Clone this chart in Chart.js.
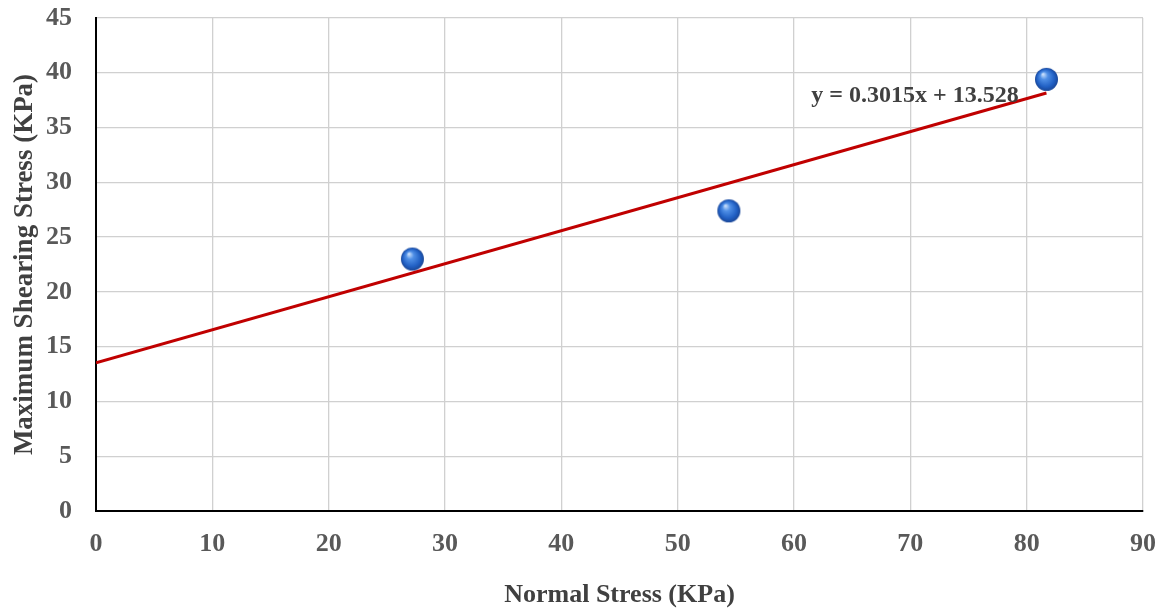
<!DOCTYPE html>
<html>
<head>
<meta charset="utf-8">
<script src="https://cdn.jsdelivr.net/npm/chart.js@4.4.0/dist/chart.umd.min.js"></script>
<style>
  html, body { margin: 0; padding: 0; background: #fff; }
  #wrap { width: 1166px; height: 611px; }
</style>
</head>
<body>
<div id="wrap"><canvas id="shear_chart" width="1166" height="611"></canvas></div>
<script>
// measured points
var normalStress = [27.2, 54.4, 81.7];
var shearStress = [23.0, 27.4, 39.4];

// linear trendline ends
var trendX = [0, 81.7];
var trendY = [13.528, 38.16];
var trendLabel = 'y = 0.3015x + 13.528';
var labelAt = [70.4, 37.9];

var xTicks = [0, 10, 20, 30, 40, 50, 60, 70, 80, 90];
var yTicks = [0, 5, 10, 15, 20, 25, 30, 35, 40, 45];

var serif = "'Liberation Serif', 'Times New Roman', serif";

// blue glossy ball for the markers
function makeBall(r) {
    var c = document.createElement('canvas');
    c.width = c.height = Math.ceil(r * 2 + 2);
    var g = c.getContext('2d');
    var cx = c.width / 2, cy = c.height / 2;
    var grad = g.createRadialGradient(cx - r * 0.3, cy - r * 0.45, r * 0.05, cx, cy, r);
    grad.addColorStop(0, '#c4dcfb');
    grad.addColorStop(0.3, '#4f8fe6');
    grad.addColorStop(0.75, '#2160c4');
    grad.addColorStop(1, '#1a4798');
    g.fillStyle = grad;
    g.beginPath();
    g.arc(cx, cy, r, 0, Math.PI * 2);
    g.fill();
    return c;
}
var ball = makeBall(11.5);

var pts = normalStress.map(function(x, i) { return {x: x, y: shearStress[i]}; });
var line = trendX.map(function(x, i) { return {x: x, y: trendY[i]}; });

var eqLabel = {
    id: 'eqLabel',
    afterDatasetsDraw: function(chart) {
        var ctx = chart.ctx;
        var px = chart.scales.x.getPixelForValue(labelAt[0]);
        var py = chart.scales.y.getPixelForValue(labelAt[1]);
        ctx.save();
        ctx.font = 'bold 24px ' + serif;
        ctx.fillStyle = '#404040';
        ctx.textAlign = 'center';
        ctx.textBaseline = 'middle';
        ctx.fillText(trendLabel, px, py);
        ctx.restore();
    }
};

var ctx = document.getElementById('shear_chart').getContext('2d');
var chart = new Chart(ctx, {
    type: 'scatter',
    data: {
        datasets: [{
            label: 'Trend',
            type: 'line',
            data: line,
            borderColor: '#c00000',
            borderWidth: 3,
            pointRadius: 0,
            fill: false
        }, {
            label: 'Data',
            data: pts,
            pointStyle: ball,
            pointRadius: 12
        }]
    },
    options: {
        responsive: false,
        animation: false,
        layout: { padding: { top: 18, right: 23, left: 0, bottom: 0 } },
        plugins: { legend: { display: false }, tooltip: { enabled: false } },
        scales: {
            x: {
                type: 'linear',
                min: 0, max: 90,
                afterBuildTicks: function(s) { s.ticks = xTicks.map(function(v) { return {value: v}; }); },
                afterFit: function(s) { s.height = 100; s.paddingLeft = 0; s.paddingRight = 0; },
                grid: { color: '#d0d0d0', lineWidth: 1.3, drawTicks: false },
                border: { color: '#000', width: 2 },
                ticks: { color: '#595959', font: { family: serif, size: 26, weight: 'bold' }, padding: 18, maxRotation: 0 },
                title: { display: true, text: 'Normal Stress (KPa)', color: '#404040',
                         font: { family: serif, size: 26, weight: 'bold' }, padding: { top: 0, bottom: 0 } }
            },
            y: {
                min: 0, max: 45,
                afterBuildTicks: function(s) { s.ticks = yTicks.map(function(v) { return {value: v}; }); },
                afterFit: function(s) { s.width = 96; s.paddingTop = 0; s.paddingBottom = 0; },
                grid: { color: '#d0d0d0', lineWidth: 1.3, drawTicks: false },
                border: { color: '#000', width: 2 },
                ticks: { color: '#595959', font: { family: serif, size: 26, weight: 'bold' }, padding: 24 },
                title: { display: true, text: 'Maximum Shearing Stress (KPa)', color: '#404040',
                         font: { family: serif, size: 27, weight: 'bold' }, padding: { top: 9, bottom: 0 } }
            }
        }
    },
    plugins: [eqLabel]
});
</script>
</body>
</html>
